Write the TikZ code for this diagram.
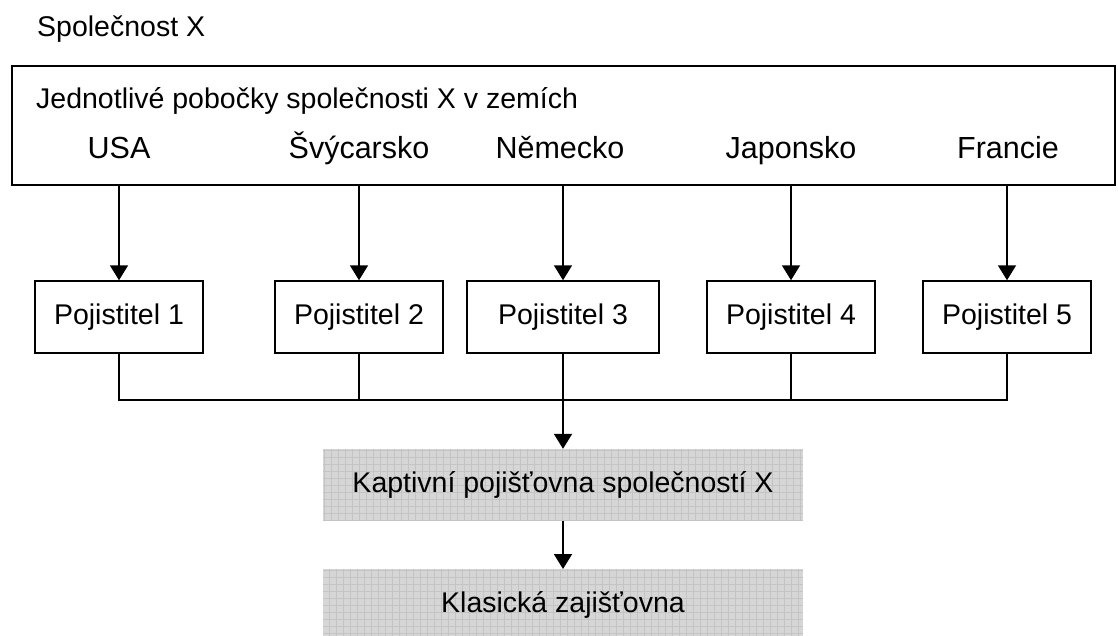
\documentclass[tikz,border=0pt]{standalone}
\usepackage{fontspec}
\setmainfont{Liberation Sans}
\usetikzlibrary{arrows.meta}
\definecolor{boxgray}{RGB}{214,214,214}
\definecolor{gridgray}{RGB}{196,196,196}
\tikzset{
  txt/.style={font=\fontsize{28.5}{32}\selectfont, inner sep=0pt},
  ctxt/.style={font=\fontsize{30.5}{34}\selectfont, inner sep=0pt},
  pbox/.style={draw, line width=1.5pt, minimum height=72pt, inner sep=0pt,
    font=\fontsize{28.5}{32}\selectfont, text height=20pt, text depth=6pt},
  gbox/.style={fill=boxgray, minimum width=480pt, minimum height=72pt, inner sep=0pt,
    font=\fontsize{28.5}{32}\selectfont, text height=20pt, text depth=6pt,
    path picture={\draw[gridgray, line width=0.8pt]
      (path picture bounding box.south west) grid[step=7pt]
      (path picture bounding box.north east);}},
  arr/.style={line width=1.9pt, -{Triangle[width=18pt,length=15pt]}},
  conn/.style={line width=1.9pt},
}
\begin{document}
\begin{tikzpicture}[x=1pt, y=-1pt]
  \clip (0,0) rectangle (1118,635);
  \node[txt, anchor=base west] (title) at (37,36) {Společnost X};
  \node[draw, line width=2.2pt, minimum width=1103pt, minimum height=119pt,
        anchor=north west, inner sep=0pt] (top) at (11,65) {};
  \node[txt, anchor=base west] (head) at (36,108) {Jednotlivé pobočky společnosti X v zemích};
  \node[ctxt, anchor=base] (c1) at (119,158) {USA};
  \node[ctxt, anchor=base] (c2) at (359,158) {Švýcarsko};
  \node[ctxt, anchor=base] (c3) at (560,158) {Německo};
  \node[ctxt, anchor=base] (c4) at (791,158) {Japonsko};
  \node[ctxt, anchor=base] (c5) at (1008,158) {Francie};

  \node[pbox, minimum width=168pt] (p1) at (119,317) {Pojistitel 1};
  \node[pbox, minimum width=168pt] (p2) at (359,317) {Pojistitel 2};
  \node[pbox, minimum width=192pt] (p3) at (563,317) {Pojistitel 3};
  \node[pbox, minimum width=168pt] (p4) at (791,317) {Pojistitel 4};
  \node[pbox, minimum width=168pt] (p5) at (1007,317) {Pojistitel 5};

  \foreach \p in {p1,p2,p3,p4,p5}
    \draw[arr] (\p.north |- top.south) -- (\p.north);

  \coordinate (bus) at (563,400);
  \draw[conn, line width=2.2pt] (p1.south) -- (p1.south |- bus) -- (p5.south |- bus) -- (p5.south);
  \foreach \p in {p2,p4}
    \draw[conn] (\p.south) -- (\p.south |- bus);

  \node[gbox] (k) at (563,485) {Kaptivní pojišťovna společností X};
  \node[gbox, anchor=north] (z) at (563,569) {Klasická zajišťovna};

  \draw[arr] (p3.south) -- (k.north);
  \draw[arr] (k.south) -- (z.north);
\end{tikzpicture}
\end{document}
